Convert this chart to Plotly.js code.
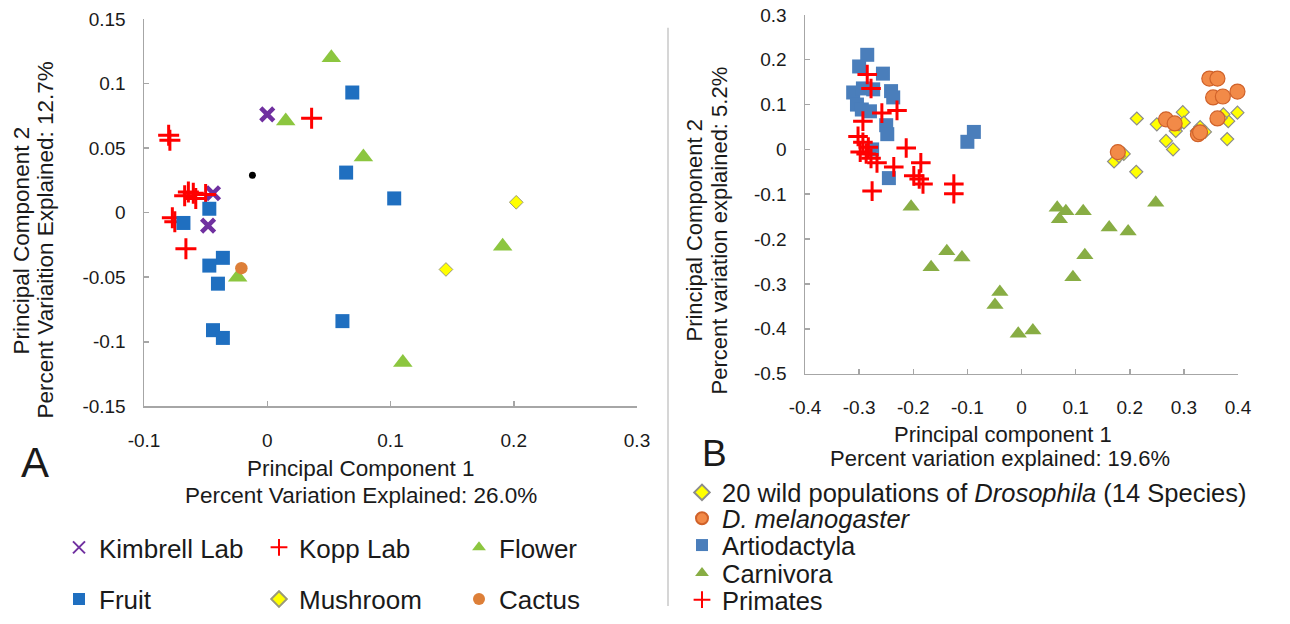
<!DOCTYPE html>
<html><head><meta charset="utf-8">
<script src="https://cdn.plot.ly/plotly-3.0.1.min.js"></script>
<style>html,body{margin:0;padding:0;background:#fff;}#chart{width:1290px;height:624px;}</style>
</head><body><div id="chart"></div>
<script>
// ---------- Panel A data ----------
const kimbrellX = [0.000, -0.044, -0.048];
const kimbrellY = [0.076, 0.015, -0.010];
const koppX = [-0.080, -0.079, 0.036, -0.067, -0.064, -0.060, -0.058, -0.050, -0.077, -0.075, -0.066];
const koppY = [0.060, 0.056, 0.073, 0.013, 0.016, 0.015, 0.011, 0.014, -0.004, -0.007, -0.028];
const flowerX = [0.052, 0.015, 0.078, 0.191, 0.110, -0.024];
const flowerY = [0.120, 0.071, 0.043, -0.026, -0.116, -0.050];
const fruitX = [0.069, 0.064, 0.103, -0.047, -0.068, -0.036, -0.047, -0.040, -0.044, -0.036, 0.061];
const fruitY = [0.093, 0.031, 0.011, 0.003, -0.008, -0.035, -0.041, -0.055, -0.091, -0.097, -0.084];
const mushroomX = [0.202, 0.145];
const mushroomY = [0.008, -0.044];
const cactusX = [-0.021];
const cactusY = [-0.043];
const otherX = [-0.012];
const otherY = [0.029];
const aXTicks = [-0.1, 0, 0.1, 0.2, 0.3];
const aXTickText = ["-0.1", "0", "0.1", "0.2", "0.3"];
const aYTicks = [-0.15, -0.1, -0.05, 0, 0.05, 0.1, 0.15];
const aYTickText = ["-0.15", "-0.1", "-0.05", "0", "0.05", "0.1", "0.15"];

// ---------- Panel B data ----------
const drosX = [0.213, 0.250, 0.298, 0.285, 0.291, 0.267, 0.280, 0.330, 0.339, 0.380, 0.382, 0.399, 0.373, 0.171, 0.189, 0.212, 0.324, 0.300, 0.368, 0.180];
const drosY = [0.069, 0.056, 0.083, 0.041, 0.056, 0.019, 0.000, 0.050, 0.039, 0.023, 0.063, 0.082, 0.078, -0.027, -0.010, -0.050, 0.041, 0.060, 0.070, -0.015];
const melX = [0.347, 0.362, 0.354, 0.372, 0.399, 0.267, 0.283, 0.326, 0.330, 0.362, 0.178];
const melY = [0.158, 0.158, 0.116, 0.118, 0.129, 0.067, 0.058, 0.034, 0.038, 0.069, -0.006];
const artioX = [-0.285, -0.300, -0.256, -0.311, -0.293, -0.274, -0.241, -0.237, -0.304, -0.295, -0.280, -0.250, -0.248, -0.276, -0.245, -0.100, -0.088];
const artioY = [0.211, 0.185, 0.169, 0.127, 0.136, 0.134, 0.130, 0.116, 0.100, 0.089, 0.085, 0.054, 0.034, 0.000, -0.064, 0.017, 0.039];
const carnX = [-0.204, -0.138, -0.110, -0.167, -0.040, -0.049, -0.006, 0.021, 0.066, 0.082, 0.070, 0.114, 0.162, 0.197, 0.248, 0.117, 0.095];
const carnY = [-0.128, -0.227, -0.241, -0.263, -0.318, -0.347, -0.411, -0.404, -0.130, -0.138, -0.156, -0.138, -0.174, -0.183, -0.119, -0.236, -0.285];
const primX = [-0.285, -0.278, -0.230, -0.258, -0.293, -0.302, -0.293, -0.283, -0.298, -0.287, -0.278, -0.267, -0.236, -0.213, -0.186, -0.199, -0.189, -0.182, -0.276, -0.125, -0.125];
const primY = [0.167, 0.136, 0.087, 0.081, 0.063, 0.029, 0.016, 0.005, -0.006, -0.010, -0.020, -0.030, -0.039, 0.003, -0.030, -0.059, -0.066, -0.077, -0.093, -0.077, -0.099];
const bXTicks = [-0.4, -0.3, -0.2, -0.1, 0, 0.1, 0.2, 0.3, 0.4];
const bXTickText = ["-0.4", "-0.3", "-0.2", "-0.1", "0", "0.1", "0.2", "0.3", "0.4"];
const bYTicks = [-0.5, -0.4, -0.3, -0.2, -0.1, 0, 0.1, 0.2, 0.3];
const bYTickText = ["-0.5", "-0.4", "-0.3", "-0.2", "-0.1", "0", "0.1", "0.2", "0.3"];

// ---------- layout helpers ----------
const W = 1290, H = 624;
const px = v => v / W;
const py = v => 1 - v / H;
const FONT = "Liberation Sans, Arial, Helvetica, sans-serif";

function sc(name, x, y, xa, ya, marker, legend, showlegend) {
  return {type: 'scatter', mode: 'markers', name: name, x: x, y: y, xaxis: xa, yaxis: ya,
    marker: marker, legend: legend, showlegend: showlegend !== false, hoverinfo: 'skip', cliponaxis: false};
}

const traces = [
  sc('Kimbrell Lab', kimbrellX, kimbrellY, 'x', 'y', {symbol: 'x-thin-open', size: 13, color: '#7030A0', line: {width: 4.5, color: '#7030A0'}}, 'legend'),
  sc('Kopp Lab', koppX, koppY, 'x', 'y', {symbol: 'cross-thin-open', size: 15, color: '#FF0000', line: {width: 3, color: '#FF0000'}}, 'legend'),
  sc('Flower', flowerX, flowerY, 'x', 'y', {symbol: 'triangle-up', size: 17, color: '#8CC63F'}, 'legend'),
  sc('Fruit', fruitX, fruitY, 'x', 'y', {symbol: 'square', size: 14, color: '#1F6FC0'}, 'legend2'),
  sc('Mushroom', mushroomX, mushroomY, 'x', 'y', {symbol: 'diamond', size: 10.5, color: '#FFFF00', line: {width: 1, color: '#9A9A7A'}}, 'legend2'),
  sc('Cactus', cactusX, cactusY, 'x', 'y', {symbol: 'circle', size: 12.5, color: '#DD7F38'}, 'legend2'),
  sc('other', otherX, otherY, 'x', 'y', {symbol: 'circle', size: 7, color: '#000000'}, 'legend2', false),

  sc('20 wild populations of <i>Drosophila</i> (14 Species)', drosX, drosY, 'x2', 'y2', {symbol: 'diamond', size: 10, color: '#FFFF00', line: {width: 1.2, color: '#8C8C8C'}}, 'legend3'),
  sc('<i>D. melanogaster</i>', melX, melY, 'x2', 'y2', {symbol: 'circle', size: 15, color: '#F28A48', line: {width: 1.2, color: '#D0622A'}}, 'legend4'),
  sc('Artiodactyla', artioX, artioY, 'x2', 'y2', {symbol: 'square', size: 14, color: '#4A7EBB'}, 'legend5'),
  sc('Carnivora', carnX, carnY, 'x2', 'y2', {symbol: 'triangle-up', size: 15, color: '#88AD44'}, 'legend6'),
  sc('Primates', primX, primY, 'x2', 'y2', {symbol: 'cross-thin-open', size: 14, color: '#FF0000', line: {width: 3, color: '#FF0000'}}, 'legend7')
];

const axisStyle = {
  showline: true, linecolor: '#A6A6A6', linewidth: 1.5, ticks: 'inside', ticklen: 5,
  tickcolor: '#A6A6A6', tickwidth: 1.5, showgrid: false, zeroline: false, fixedrange: true,
  tickfont: {size: 19, color: '#1a1a1a', family: FONT}, tickmode: 'array', automargin: false
};

function legendRow(x, y) {
  return {x: px(x), xanchor: 'left', y: py(y), yanchor: 'middle', orientation: 'h',
    entrywidth: 155, entrywidthmode: 'pixels', itemsizing: 'constant', traceorder: 'normal',
    bgcolor: 'rgba(0,0,0,0)', borderwidth: 0, font: {size: 26, color: '#1a1a1a', family: FONT}};
}
function legendB(y) {
  return {x: px(682), xanchor: 'left', y: py(y), yanchor: 'middle', orientation: 'v',
    itemsizing: 'constant', bgcolor: 'rgba(0,0,0,0)', borderwidth: 0,
    font: {size: 25.5, color: '#1a1a1a', family: FONT}};
}
function label(x, y, text, size, angle) {
  return {xref: 'paper', yref: 'paper', x: px(x), y: py(y), xanchor: 'center', yanchor: 'middle',
    textangle: angle || 0, showarrow: false, text: text, font: {size: size, color: '#1a1a1a'}};
}

const layout = {
  width: W, height: H, margin: {l: 0, r: 0, t: 0, b: 0},
  paper_bgcolor: '#fff', plot_bgcolor: 'rgba(0,0,0,0)',
  font: {family: FONT, color: '#1a1a1a'},
  showlegend: true,
  xaxis: Object.assign({}, axisStyle, {domain: [px(144), px(637)], range: [-0.1, 0.3], anchor: 'y',
    tickvals: aXTicks, ticktext: aXTickText, ticklabelstandoff: 16}),
  yaxis: Object.assign({}, axisStyle, {domain: [py(409), py(19)], range: [-0.15, 0.15], anchor: 'x',
    tickvals: aYTicks, ticktext: aYTickText, ticklabelstandoff: 13}),
  xaxis2: Object.assign({}, axisStyle, {domain: [px(805), px(1238)], range: [-0.4, 0.4], anchor: 'y2',
    tickvals: bXTicks, ticktext: bXTickText, ticklabelstandoff: 16}),
  yaxis2: Object.assign({}, axisStyle, {domain: [py(376), py(15)], range: [-0.5, 0.3], anchor: 'x2',
    tickvals: bYTicks, ticktext: bYTickText, ticklabelstandoff: 13}),
  legend: legendRow(59, 551),
  legend2: legendRow(59, 603),
  legend3: legendB(496),
  legend4: legendB(522),
  legend5: legendB(549),
  legend6: legendB(577),
  legend7: legendB(604),
  shapes: [{type: 'line', xref: 'paper', yref: 'paper', x0: px(668), x1: px(668), y0: py(28), y1: py(610),
    line: {color: '#C8C8C8', width: 1.5}}],
  annotations: [
    label(21, 242, 'Principal Component 2', 22.5, -90),
    label(45, 242, 'Percent Variaition Explained: 12.7%', 22.5, -90),
    label(361, 472, 'Principal Component 1', 22.5),
    label(361, 499, 'Percent Variation Explained: 26.0%', 22.5),
    label(695, 232, 'Principal Component 2', 22, -90),
    label(720, 232, 'Percent variation explained: 5.2%', 22, -90),
    label(1003, 437, 'Principal component 1', 22),
    label(1000, 461, 'Percent variation explained: 19.6%', 22),
    label(35, 465, 'A', 42),
    label(714, 456, 'B', 37)
  ]
};

Plotly.newPlot('chart', traces, layout, {displayModeBar: false, staticPlot: true});
</script>
</body></html>
